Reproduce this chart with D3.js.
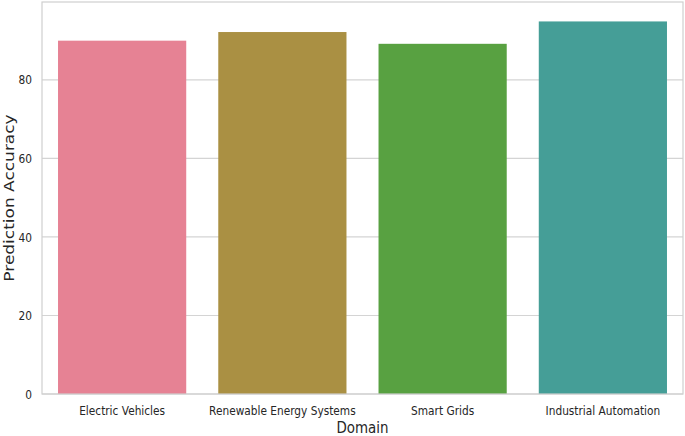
<!DOCTYPE html>
<html>
<head>
<meta charset="utf-8">
<script src="https://cdn.jsdelivr.net/npm/d3@7"></script>
<style>
  html, body { margin: 0; padding: 0; background: #ffffff; }
  svg { display: block; }
  text { font-family: "DejaVu Sans", sans-serif; fill: #262626; }
</style>
</head>
<body>
<svg id="chart" width="685" height="436"></svg>
<script>
const categories = ["Electric Vehicles", "Renewable Energy Systems", "Smart Grids", "Industrial Automation"];
const accuracy = [90.0, 92.2, 89.2, 94.9];
const barColors = ["#e68294", "#aa9043", "#58a141", "#459e97"];
const yTicks = [0, 20, 40, 60, 80];
const xLabel = "Domain";
const yLabel = "Prediction Accuracy";

const W = 685, H = 436;
const m = { left: 42, top: 2, right: 2, bottom: 42 };
const iw = W - m.left - m.right, ih = H - m.top - m.bottom;
const sx = 0.84; // horizontal text compression seen in reference

const svg = d3.select("#chart");
const g = svg.append("g").attr("transform", `translate(${m.left},${m.top})`);

const x = d3.scaleBand().domain(categories).range([0, iw]).paddingInner(0.2).paddingOuter(0.1);
const y = d3.scaleLinear().domain([0, 99.85]).range([ih, 0]);

// grid
g.append("g").selectAll("line").data(yTicks).join("line")
  .attr("x1", 0).attr("x2", iw)
  .attr("y1", d => y(d)).attr("y2", d => y(d))
  .attr("stroke", "#d4d4d4").attr("stroke-width", 1.2);

// bars
g.append("g").selectAll("rect").data(categories).join("rect")
  .attr("x", d => x(d))
  .attr("width", x.bandwidth())
  .attr("y", (d, i) => y(accuracy[i]))
  .attr("height", (d, i) => y(0) - y(accuracy[i]))
  .attr("fill", (d, i) => barColors[i]);

// spines
g.append("rect").attr("x", 0).attr("y", 0).attr("width", iw).attr("height", ih)
  .attr("fill", "none").attr("stroke", "#cfcfcf").attr("stroke-width", 1.2);

// axes
const xa = g.append("g").attr("transform", `translate(0,${ih})`)
  .call(d3.axisBottom(x).tickSize(0).tickPadding(12));
xa.select(".domain").remove();
xa.selectAll("text").style("font-size", "12.6px").attr("fill", "#262626")
  .attr("transform", `scale(${sx},1)`);

const ya = g.append("g")
  .call(d3.axisLeft(y).tickValues(yTicks).tickSize(0).tickPadding(10));
ya.select(".domain").remove();
ya.selectAll("text").style("font-size", "12.6px").attr("fill", "#262626")
  .attr("transform", `scale(${sx},1)`).attr("x", -10 / sx);

// axis labels
svg.append("text")
  .attr("transform", `translate(${m.left + iw / 2},433) scale(${sx},1)`)
  .attr("text-anchor", "middle").style("font-size", "16px").text(xLabel);

svg.append("text")
  .attr("transform", `translate(13.5,${m.top + ih / 2}) scale(${sx},1) rotate(-90)`)
  .attr("text-anchor", "middle").style("font-size", "17px").text(yLabel);
</script>
</body>
</html>
